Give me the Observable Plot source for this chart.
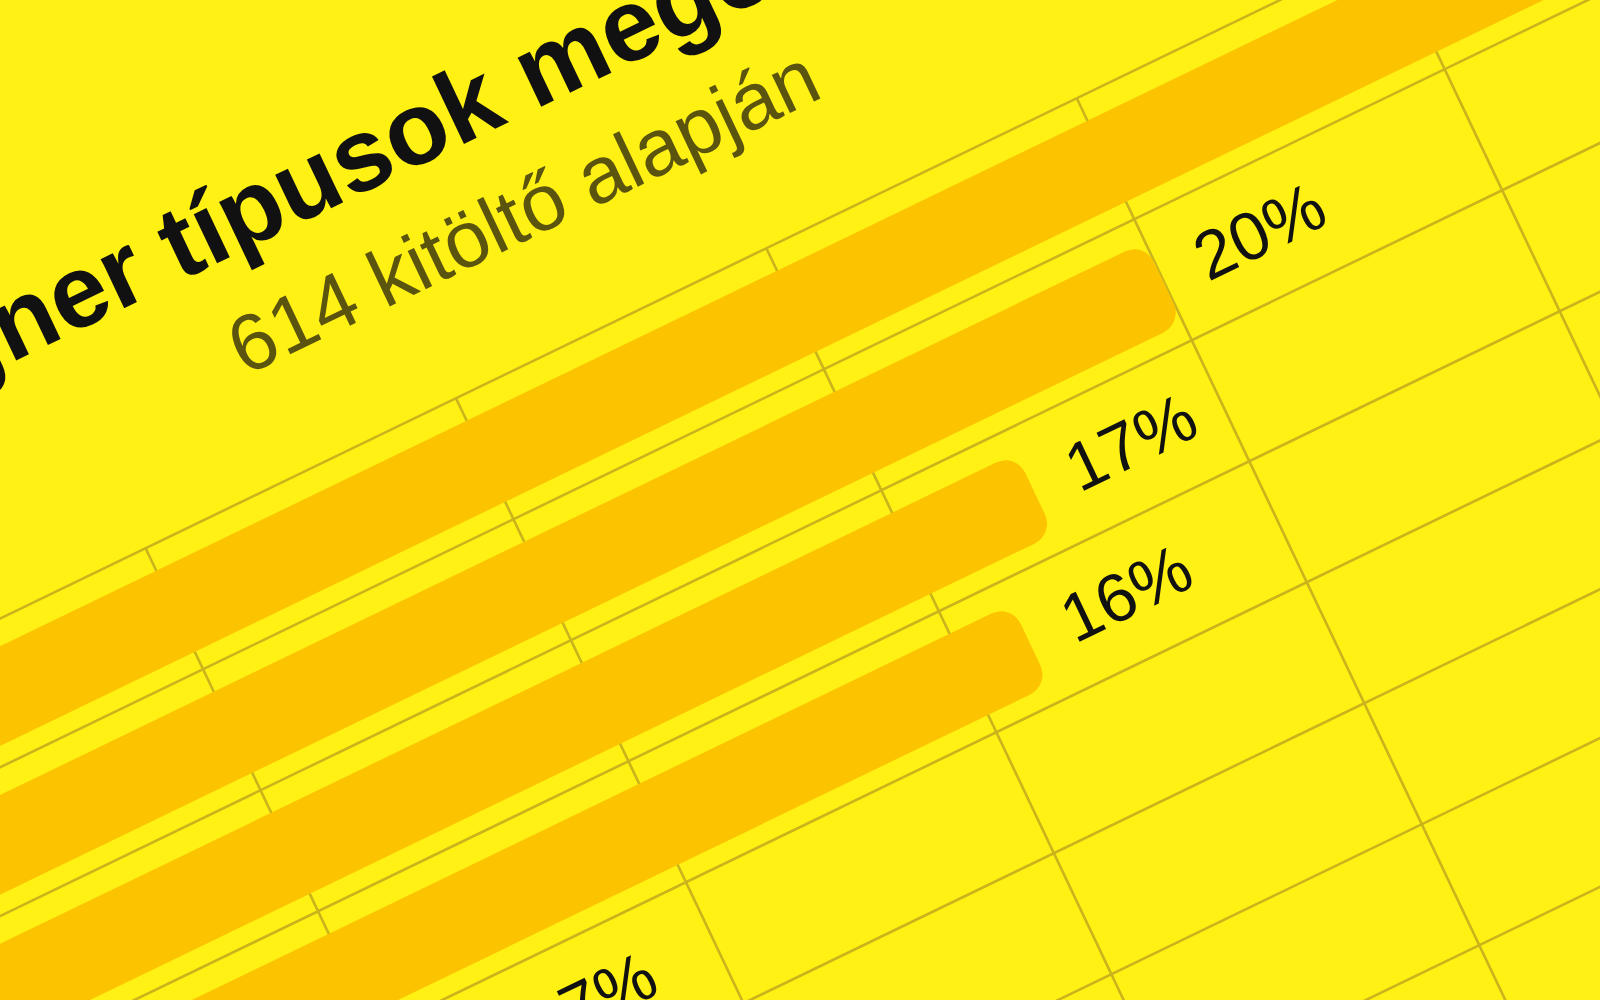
<!DOCTYPE html>
<html>
<head>
<meta charset="utf-8">
<script src="https://cdn.jsdelivr.net/npm/d3@7"></script>
<script src="https://cdn.jsdelivr.net/npm/@observablehq/plot@0.6"></script>
<style>
  html, body { margin: 0; padding: 0; width: 1600px; height: 1000px; overflow: hidden; background: #fff114; }
  #stage { position: absolute; left: 0; top: 0; transform-origin: 0 0; }
  #stage .txt { position: absolute; white-space: nowrap; line-height: 1; font-family: "Liberation Sans", Arial, Helvetica, sans-serif; }
  #stage svg { position: absolute; left: 0; }
</style>
</head>
<body>
<div id="stage"></div>
<script>
// ---- data ----
const titleText = "Designer típusok megoszlása";
const subtitleText = "614 kitöltő alapján";
const categories = ["1", "2", "3", "4", "5", "6", "7", "8"];   // category names are outside the visible crop
const values = [28, 20, 17, 16, 7, 5, 4, 3];                    // percent
const xTicks = [5, 10, 15, 20, 25, 30, 35];
const rowEdges = [0, 1, 2, 3, 4, 5, 6, 7, 8];

// ---- style ----
const BG = "#fff114", BAR = "#fcc400", GRID = "#c9b41c";
const U = 69, R = 134;           // flat px per percent, per row
const XMAX = 36;
const ML = 60, MR = 20, MT = 20, MB = 20;
const W = ML + XMAX * U + MR;
const H = MT + categories.length * R + MB;
const SVG_TOP = 420;

const data = categories.map((c, i) => ({category: c, row: i, value: values[i]}));

const chart = Plot.plot({
  width: W, height: H,
  marginLeft: ML, marginRight: MR, marginTop: MT, marginBottom: MB,
  x: {domain: [0, XMAX], range: [ML, ML + XMAX * U], axis: null},
  y: {domain: [0, categories.length], range: [MT, MT + categories.length * R], axis: null},
  style: {background: "transparent", overflow: "visible"},
  marks: [
    Plot.ruleY(rowEdges, {y: d => d, x1: 0, x2: XMAX, stroke: GRID, strokeWidth: 2.6}),
    Plot.ruleX(xTicks, {x: d => d, y1: 0, y2: categories.length, stroke: GRID, strokeWidth: 2.6}),
    Plot.rect(data, {x1: 0, x2: "value", y1: d => d.row + 0.19, y2: d => d.row + 0.86, fill: BAR, rx: 22, ry: 22}),
    Plot.text(data, {x: "value", y: d => d.row + 0.5, text: d => d.value + "%", textAnchor: "start", dx: 40,
      fontSize: 68, fill: "#111", fontFamily: "Liberation Sans, Arial, sans-serif"})
  ]
});

const stage = document.getElementById("stage");
stage.style.width = W + "px";
stage.style.height = (SVG_TOP + H) + "px";

// title + subtitle (above the svg)
const ctx = document.createElement("canvas").getContext("2d");
const TF = 103, SF = 80;
ctx.font = `bold ${TF}px "Liberation Sans"`;
const preW = ctx.measureText("Desig").width;
const fx0 = ML, fy0 = SVG_TOP + MT;   // flat position of (0 %, row edge 0)

const title = document.createElement("div");
title.className = "txt";
title.textContent = titleText;
title.style.fontSize = TF + "px";
title.style.fontWeight = "bold";
title.style.color = "#111";
title.style.left = (fx0 + 302 - preW) + "px";
title.style.top = (fy0 - 225 - 0.8465 * TF) + "px";
stage.appendChild(title);

const sub = document.createElement("div");
sub.className = "txt";
sub.textContent = subtitleText;
sub.style.fontSize = SF + "px";
sub.style.color = "#5b540e";
sub.style.left = (fx0 + 509) + "px";
sub.style.top = (fy0 - 110 - 0.8465 * SF) + "px";
stage.appendChild(sub);

chart.style.top = SVG_TOP + "px";
stage.appendChild(chart);

// view transform (camera): affine map of the flat chart onto the screen
const a = 62.08 / U, b = -30.0 / U, c = 57.5 / R, d = 121 / R;
const Ox = -165.5, Oy = 698;
const e = Ox - (a * fx0 + c * fy0), f = Oy - (b * fx0 + d * fy0);
stage.style.transform = `matrix(${a},${b},${c},${d},${e},${f})`;
</script>
</body>
</html>
